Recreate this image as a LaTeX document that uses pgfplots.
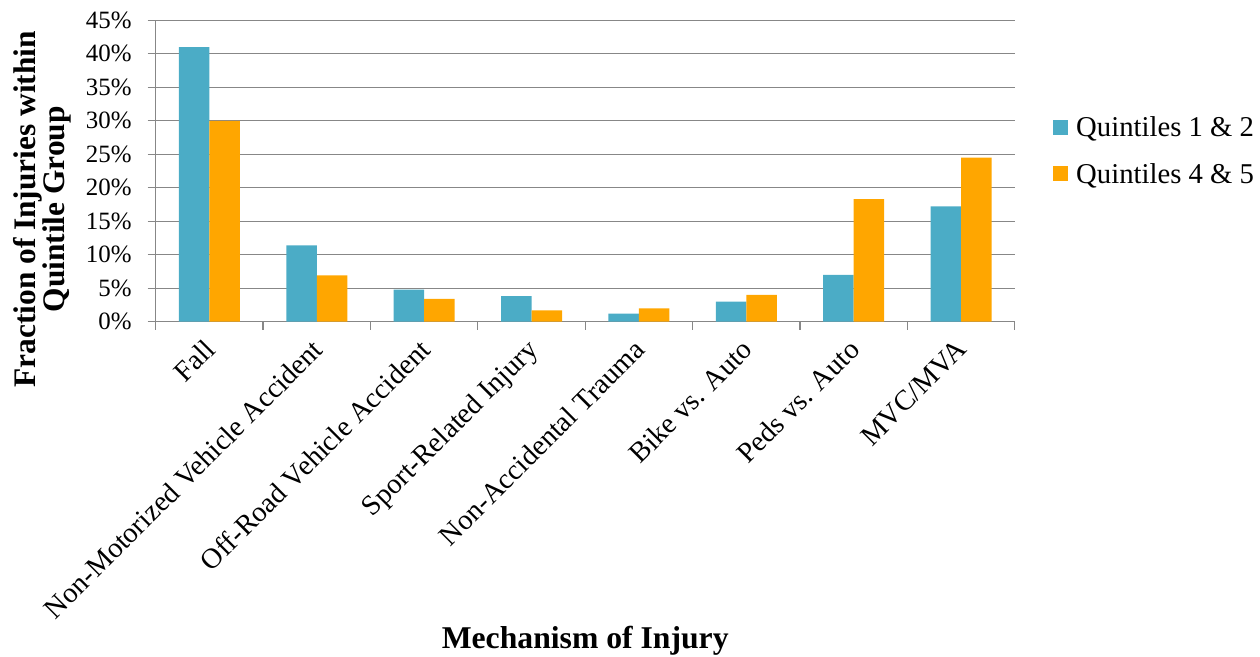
\documentclass[border=0pt]{standalone}
\usepackage{fontspec}
\setmainfont{Liberation Serif}
\usepackage{pgfplots}
\pgfplotsset{compat=1.18}
\definecolor{qblue}{RGB}{75,172,198}
\definecolor{qorange}{RGB}{255,166,0}
\definecolor{gridgray}{RGB}{135,135,135}
\begin{document}
\begin{tikzpicture}
\useasboundingbox (0,0) rectangle (1260bp,657bp);
\begin{axis}[
  at={(155.7bp,335.3bp)}, anchor=south west,
  scale only axis, width=859bp, height=301.4bp,
  xmin=-0.5, xmax=7.5, ymin=0, ymax=45,
  ybar=0pt, bar width=30.5bp,
  axis x line*=bottom, axis y line*=left,
  axis line style={gridgray, line width=1.3bp},
  ytick={0,5,...,45},
  yticklabel={\pgfmathprintnumber{\tick}\%},
  ymajorgrids, major grid style={gridgray, line width=1.3bp},
  xtick={0,...,7},
  xticklabels={Fall, Non-Motorized Vehicle Accident, Off-Road Vehicle Accident, Sport-Related Injury, Non-Accidental Trauma, Bike vs. Auto, Peds vs. Auto, MVC/MVA},
  minor xtick={-0.5,0.5,...,7.5},
  major x tick style={draw=none},
  tick align=outside,
  major tick length=8bp, minor tick length=8bp,
  tick style={gridgray, line width=1.3bp},
  /pgf/number format/assume math mode=true,
  yticklabel style={font=\fontsize{25}{25}\selectfont, anchor=east, inner sep=0pt, xshift=-16bp},
  xticklabel style={font=\fontsize{28.6}{28.6}\selectfont, rotate=45, anchor=north east, inner sep=0pt, xshift=-10bp, yshift=-1bp},
  xlabel={Mechanism of Injury},
  xlabel style={font=\bfseries\fontsize{31.8}{31.8}\selectfont, at={(axis description cs:0.5,-1.085)}, anchor=base},
  ylabel={Fraction of Injuries within\\Quintile Group},
  ylabel style={font=\bfseries\fontsize{31.5}{27}\selectfont, align=center, at={(axis description cs:-0.132,0.373)}, anchor=center},
  legend style={draw=none, fill=none, at={(axis description cs:1.0446,0.567)}, anchor=west, font=\fontsize{28.8}{28.8}\selectfont, inner sep=0pt, row sep=21bp, column sep=6bp, legend cell align=left},
  legend image code/.code={\fill (0bp,-7.5bp) rectangle (15bp,7.5bp);},
]
\addplot[fill=qblue, draw=none] coordinates {(0,41.0) (1,11.4) (2,4.8) (3,3.8) (4,1.2) (5,3.0) (6,7.0) (7,17.2)};
\addplot[fill=qorange, draw=none] coordinates {(0,30.0) (1,6.9) (2,3.4) (3,1.7) (4,2.0) (5,4.0) (6,18.3) (7,24.5)};
\legend{Quintiles 1 \& 2, Quintiles 4 \& 5}
\end{axis}
\end{tikzpicture}
\end{document}
